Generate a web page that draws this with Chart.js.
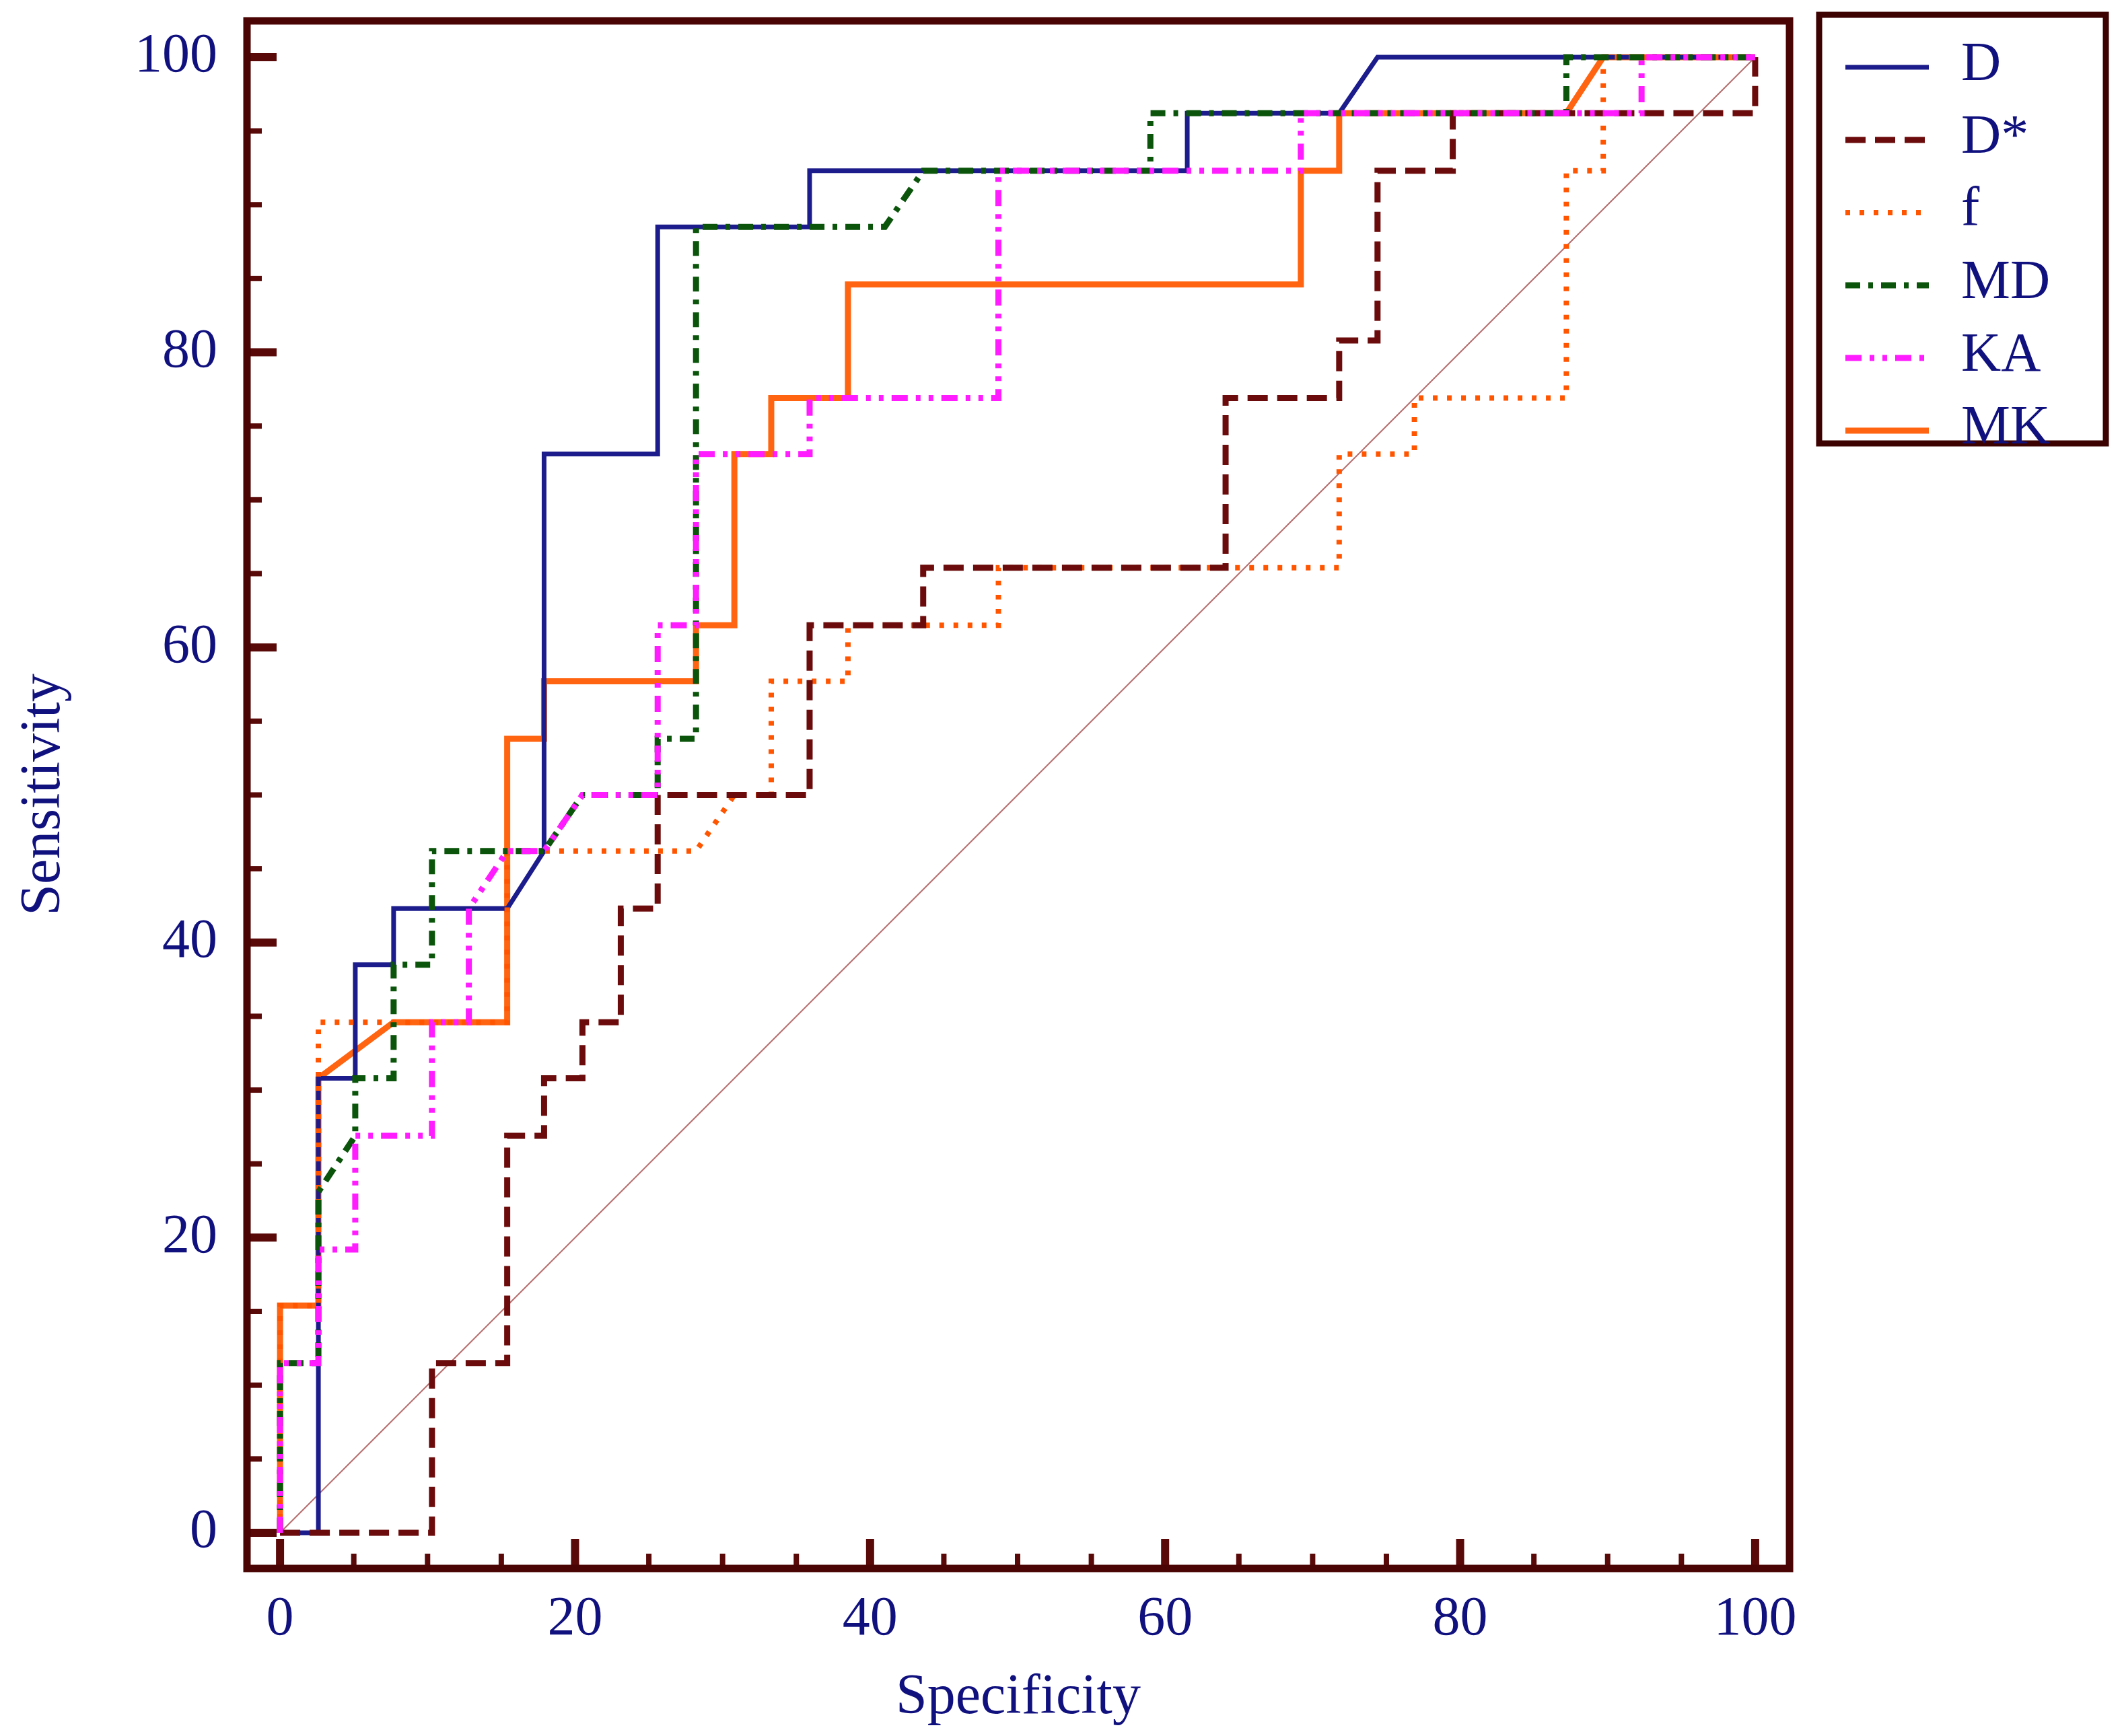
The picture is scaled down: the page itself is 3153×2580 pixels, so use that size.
<!DOCTYPE html>
<html>
<head>
<meta charset="UTF-8">
<title>ROC curves</title>
<style>
  html, body { margin: 0; padding: 0; background: #fff; }
  #wrap { width: 3153px; height: 2580px; }
  canvas { display: block; }
</style>
<script src="https://cdn.jsdelivr.net/npm/chart.js"></script>
</head>
<body>
<div id="wrap"><canvas id="roc" width="3153" height="2580"></canvas></div>
<script>
// axis ticks (labelled every 20, small marks every 5)
var xTicks = [0, 20, 40, 60, 80, 100];
var yTicks = [0, 20, 40, 60, 80, 100];
var minorStep = 5;

// ROC step curves
var dX = [0, 2.6, 2.6, 5.1, 5.1, 7.7, 7.7, 15.4, 17.9, 17.9, 25.6, 25.6, 35.9, 35.9, 61.5, 61.5, 71.8, 74.4, 100];
var dY = [0, 0, 30.8, 30.8, 38.5, 38.5, 42.3, 42.3, 46.2, 73.1, 73.1, 88.5, 88.5, 92.3, 92.3, 96.2, 96.2, 100, 100];

var dsX = [0, 10.3, 10.3, 15.4, 15.4, 17.9, 17.9, 20.5, 20.5, 23.1, 23.1, 25.6, 25.6, 35.9, 35.9, 43.6, 43.6, 64.1, 64.1, 71.8, 71.8, 74.4, 74.4, 79.5, 79.5, 100, 100];
var dsY = [0, 0, 11.5, 11.5, 26.9, 26.9, 30.8, 30.8, 34.6, 34.6, 42.3, 42.3, 50, 50, 61.5, 61.5, 65.4, 65.4, 76.9, 76.9, 80.8, 80.8, 92.3, 92.3, 96.2, 96.2, 100];

var fX = [0, 0, 2.6, 2.6, 15.4, 15.4, 28.2, 30.8, 33.3, 33.3, 38.5, 38.5, 48.7, 48.7, 71.8, 71.8, 76.9, 76.9, 87.2, 87.2, 89.7, 89.7, 100];
var fY = [0, 15.4, 15.4, 34.6, 34.6, 46.2, 46.2, 50, 50, 57.7, 57.7, 61.5, 61.5, 65.4, 65.4, 73.1, 73.1, 76.9, 76.9, 92.3, 92.3, 100, 100];

var mdX = [0, 0, 2.6, 2.6, 5.1, 5.1, 7.7, 7.7, 10.3, 10.3, 17.9, 20.5, 25.6, 25.6, 28.2, 28.2, 41.0, 43.6, 59.0, 59.0, 87.2, 87.2, 100];
var mdY = [0, 11.5, 11.5, 23.1, 26.9, 30.8, 30.8, 38.5, 38.5, 46.2, 46.2, 50, 50, 53.8, 53.8, 88.5, 88.5, 92.3, 92.3, 96.2, 96.2, 100, 100];

var kaX = [0, 0, 2.6, 2.6, 5.1, 5.1, 10.3, 10.3, 12.8, 12.8, 15.4, 17.9, 20.5, 25.6, 25.6, 28.2, 28.2, 35.9, 35.9, 48.7, 48.7, 69.2, 69.2, 92.3, 92.3, 100];
var kaY = [0, 11.5, 11.5, 19.2, 19.2, 26.9, 26.9, 34.6, 34.6, 42.3, 46.2, 46.2, 50, 50, 61.5, 61.5, 73.1, 73.1, 76.9, 76.9, 92.3, 92.3, 96.2, 96.2, 100, 100];

var mkX = [0, 0, 2.6, 2.6, 7.7, 15.4, 15.4, 17.9, 17.9, 28.2, 28.2, 30.8, 30.8, 33.3, 33.3, 38.5, 38.5, 69.2, 69.2, 71.8, 71.8, 87.2, 89.7, 100];
var mkY = [0, 15.4, 15.4, 30.8, 34.6, 34.6, 53.8, 53.8, 57.7, 57.7, 61.5, 61.5, 73.1, 73.1, 76.9, 76.9, 84.6, 84.6, 92.3, 92.3, 96.2, 96.2, 100, 100];

// chance line
var diagX = [0, 100];
var diagY = [0, 100];

var textColor = '#10107e';
var frameColor = '#4a0404';
var tickColor = '#5a0909';
var serif = 'Liberation Serif';

function pts(xs, ys) {
  return xs.map(function(x, i) { return {x: x, y: ys[i]}; });
}

// keep the plot box where it is: no extra room for edge tick labels
function noEdgePadding(s) {
  s.paddingTop = 0;
  s.paddingBottom = 0;
  s.paddingLeft = 0;
  s.paddingRight = 0;
}

// box frame and inward tick marks
var framePlugin = {
  id: 'frame',
  afterDatasetsDraw: function(chart) {
    var a = chart.chartArea, ctx = chart.ctx;
    var xs = chart.scales.x, ys = chart.scales.y;
    ctx.save();
    ctx.strokeStyle = tickColor;
    ctx.lineCap = 'butt';
    for (var v = 0; v <= 100; v += minorStep) {
      var majorX = xTicks.indexOf(v) >= 0;
      var majorY = yTicks.indexOf(v) >= 0;
      var px = xs.getPixelForValue(v);
      ctx.lineWidth = majorX ? 12 : 8;
      ctx.beginPath();
      ctx.moveTo(px, a.bottom);
      ctx.lineTo(px, a.bottom - (majorX ? 44 : 22));
      ctx.stroke();
      var py = ys.getPixelForValue(v);
      ctx.lineWidth = majorY ? 12 : 8;
      ctx.beginPath();
      ctx.moveTo(a.left, py);
      ctx.lineTo(a.left + (majorY ? 44 : 22), py);
      ctx.stroke();
    }
    ctx.strokeStyle = frameColor;
    ctx.lineWidth = 11;
    ctx.strokeRect(a.left, a.top, a.right - a.left, a.bottom - a.top);
    ctx.restore();
  }
};

// boxed legend to the right of the frame
var legendPlugin = {
  id: 'boxLegend',
  afterDraw: function(chart) {
    var ctx = chart.ctx;
    var box = {left: 2703, top: 22, right: 3129, bottom: 659};
    var rowTop = 100, rowStep = 108;
    ctx.save();
    ctx.strokeStyle = '#3c0202';
    ctx.lineWidth = 9;
    ctx.strokeRect(box.left, box.top, box.right - box.left, box.bottom - box.top);
    var items = chart.data.datasets.filter(function(d) { return !d.isRef; });
    items.forEach(function(d, i) {
      var y = rowTop + i * rowStep;
      ctx.strokeStyle = d.borderColor;
      ctx.lineWidth = d.borderWidth;
      ctx.lineCap = d.borderCapStyle || 'butt';
      ctx.setLineDash(d.borderDash || []);
      ctx.beginPath();
      ctx.moveTo(2742, y);
      ctx.lineTo(2866, y);
      ctx.stroke();
      ctx.setLineDash([]);
      ctx.fillStyle = textColor;
      ctx.font = '82px "' + serif + '"';
      ctx.textAlign = 'left';
      ctx.textBaseline = 'alphabetic';
      ctx.fillText(d.label, 2914, y + 19);
    });
    ctx.restore();
  }
};

var ctx = document.getElementById('roc').getContext('2d');
var chart = new Chart(ctx, {
  type: 'line',
  data: {
    datasets: [
      { label: 'D', data: pts(dX, dY), borderColor: '#1c1c8c', borderWidth: 7, order: 5 },
      { label: 'D*', data: pts(dsX, dsY), borderColor: '#6c0b0b', borderWidth: 9, borderDash: [30, 14], order: 3 },
      { label: 'f', data: pts(fX, fY), borderColor: '#ff5500', borderWidth: 8, borderDash: [7, 14], order: 4 },
      { label: 'MD', data: pts(mdX, mdY), borderColor: '#0b540b', borderWidth: 9, borderDash: [22, 12, 7, 12], order: 2 },
      { label: 'KA', data: pts(kaX, kaY), borderColor: '#ff1cff', borderWidth: 9, borderDash: [24, 12, 7, 12, 7, 12], order: 1 },
      { label: 'MK', data: pts(mkX, mkY), borderColor: '#ff6410', borderWidth: 9, order: 6 },
      { label: 'ref', isRef: true, data: pts(diagX, diagY), borderColor: '#b56e6e', borderWidth: 2, order: 10 }
    ]
  },
  options: {
    responsive: false,
    animation: false,
    devicePixelRatio: 1,
    layout: { padding: { left: 0, top: 31, right: 494, bottom: 0 } },
    elements: {
      point: { radius: 0, hoverRadius: 0 },
      line: { tension: 0, fill: false, borderJoinStyle: 'miter' }
    },
    plugins: {
      legend: { display: false },
      tooltip: { enabled: false }
    },
    scales: {
      x: {
        type: 'linear',
        min: -2.24,
        max: 102.33,
        afterBuildTicks: function(s) { s.ticks = xTicks.map(function(v) { return {value: v}; }); },
        afterFit: function(s) { s.height = 249; noEdgePadding(s); },
        grid: { display: false },
        border: { display: false },
        ticks: {
          padding: 19,
          color: textColor,
          autoSkip: false,
          maxRotation: 0,
          font: { family: serif, size: 82 }
        },
        title: {
          display: true,
          text: 'Specificity',
          color: textColor,
          font: { family: serif, size: 84 },
          padding: { top: 0, bottom: 6 }
        }
      },
      y: {
        type: 'linear',
        min: -2.42,
        max: 102.46,
        afterBuildTicks: function(s) { s.ticks = yTicks.map(function(v) { return {value: v}; }); },
        afterFit: function(s) { s.width = 367; noEdgePadding(s); },
        grid: { display: false },
        border: { display: false },
        ticks: {
          padding: 36,
          color: textColor,
          autoSkip: false,
          font: { family: serif, size: 82 }
        },
        title: {
          display: true,
          text: 'Sensitivity',
          color: textColor,
          font: { family: serif, size: 84 },
          padding: { top: 16, bottom: 0 }
        }
      }
    }
  },
  plugins: [framePlugin, legendPlugin]
});
</script>
</body>
</html>
